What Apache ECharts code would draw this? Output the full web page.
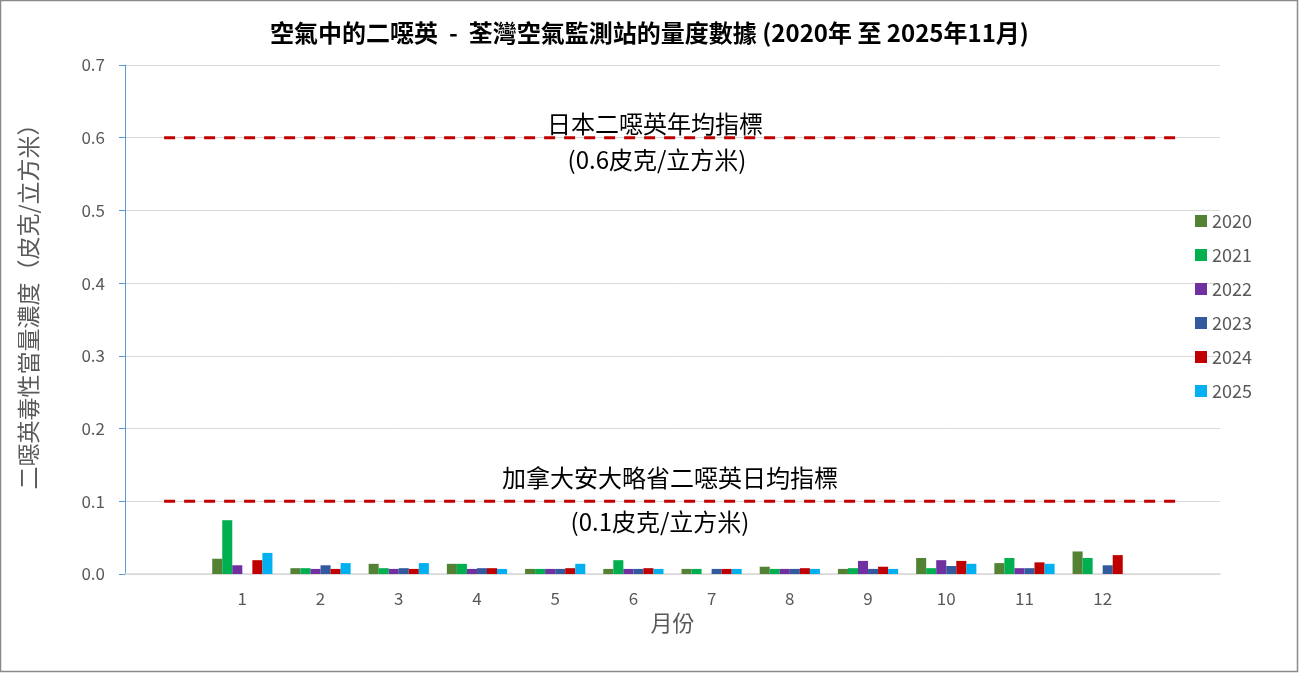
<!DOCTYPE html>
<html>
<head>
<meta charset="utf-8">
<title>空氣中的二噁英 - 荃灣空氣監測站</title>
<script src="https://cdn.jsdelivr.net/npm/echarts@6/dist/echarts.min.js"></script>
<style>
  html, body { margin: 0; padding: 0; background: #fff; }
  #chart { width: 1299px; height: 673px; }
</style>
</head>
<body>
<div id="chart"></div>
<script>
// 月份 (首尾留空位, 讓指標虛線伸出)
const months = ['', '1', '2', '3', '4', '5', '6', '7', '8', '9', '10', '11', '12', ''];
const years = ['2020', '2021', '2022', '2023', '2024', '2025'];
const yearColors = ['#548235', '#00B050', '#7030A0', '#335A9E', '#C00000', '#00B0F0'];

// 每年 1-12 月的量度數值 (皮克/立方米), null = 沒有數據
const v2020 = [0.021, 0.008, 0.014, 0.014, 0.007, 0.007, 0.007, 0.010, 0.007, 0.022, 0.015, 0.031];
const v2021 = [0.074, 0.008, 0.008, 0.014, 0.007, 0.019, 0.007, 0.007, 0.008, 0.008, 0.022, 0.022];
const v2022 = [0.012, 0.007, 0.007, 0.007, 0.007, 0.007, null, 0.007, 0.018, 0.019, 0.008, null];
const v2023 = [null, 0.012, 0.008, 0.008, 0.007, 0.007, 0.007, 0.007, 0.007, 0.011, 0.008, 0.012];
const v2024 = [0.019, 0.007, 0.007, 0.008, 0.008, 0.008, 0.007, 0.008, 0.010, 0.018, 0.016, 0.026];
const v2025 = [0.029, 0.015, 0.015, 0.007, 0.014, 0.007, 0.007, 0.007, 0.007, 0.014, 0.014, null];
const yearValues = [v2020, v2021, v2022, v2023, v2024, v2025];

// 指標
const jpLimit = 0.6;   // 日本二噁英年均指標
const caLimit = 0.1;   // 加拿大安大略省二噁英日均指標
const yTicks = { min: 0, max: 0.7, interval: 0.1 };

const chart = echarts.init(document.getElementById('chart'));

const cjk = '"Noto Sans CJK TC", "Noto Sans", sans-serif';
const grey = '#595959';

// 柱: 首尾空位補 null
const barSeries = years.map(function (y, i) {
  return {
    name: y,
    type: 'bar',
    data: [null].concat(yearValues[i], [null]),
    itemStyle: { color: yearColors[i] },
    barGap: '0%',
    barCategoryGap: '23%',
    silent: true
  };
});

function limitLine(value) {
  return {
    type: 'line',
    data: [[0, value], [months.length - 1, value]],
    symbol: 'none',
    silent: true,
    lineStyle: { color: '#C00000', width: 3, type: [11, 9] },
    z: 3
  };
}

function note(text, x, y) {
  return {
    type: 'text', x: x, y: y, silent: true,
    style: { text: text, font: '24px ' + cjk, fill: '#000', align: 'center', verticalAlign: 'middle' }
  };
}

const option = {
  animation: false,
  backgroundColor: '#fff',
  textStyle: { fontFamily: cjk },
  title: {
    text: '空氣中的二噁英  -  荃灣空氣監測站的量度數據 (2020年 至 2025年11月)',
    left: 'center',
    top: 16,
    textStyle: { fontFamily: cjk, fontSize: 24, fontWeight: 'bold', color: '#000' }
  },
  legend: {
    data: years,
    orient: 'vertical',
    left: 1190,
    top: 207,
    itemWidth: 12,
    itemHeight: 12,
    itemGap: 16,
    icon: 'rect',
    textStyle: { fontFamily: cjk, fontSize: 18, color: grey, lineHeight: 18 }
  },
  grid: { left: 125, right: 79, top: 65, bottom: 99, containLabel: false },
  xAxis: {
    type: 'category',
    data: months,
    name: '月份',
    nameLocation: 'middle',
    nameGap: 36,
    nameTextStyle: { fontFamily: cjk, fontSize: 22, color: grey },
    axisLine: { lineStyle: { color: '#D9D9D9', width: 1.5 } },
    axisTick: { show: false },
    axisLabel: { interval: 0, margin: 16, fontFamily: cjk, fontSize: 17, color: grey }
  },
  yAxis: {
    type: 'value',
    min: yTicks.min,
    max: yTicks.max,
    interval: yTicks.interval,
    axisLine: { show: true, lineStyle: { color: '#5B9BD5' } },
    axisTick: { show: true, length: 6, lineStyle: { color: '#5B9BD5' } },
    axisLabel: {
      margin: 20,
      fontFamily: cjk,
      fontSize: 17,
      color: grey,
      formatter: function (v) { return v.toFixed(1); }
    },
    splitLine: { lineStyle: { color: '#D9D9D9' } }
  },
  graphic: [
    {
      type: 'rect',
      silent: true,
      shape: { x: 0.5, y: 0.5, width: 1297, height: 671 },
      style: { fill: 'none', stroke: '#898989', lineWidth: 1.5 }
    },
    {
      type: 'text',
      silent: true,
      rotation: Math.PI / 2,
      x: 28, y: 301,
      style: {
        text: '二噁英毒性當量濃度（皮克/立方米）',
        font: '23px ' + cjk,
        fill: grey,
        align: 'center',
        verticalAlign: 'middle'
      }
    },
    note('日本二噁英年均指標', 655, 124),
    note('(0.6皮克/立方米)', 657, 160),
    note('加拿大安大略省二噁英日均指標', 670, 478),
    note('(0.1皮克/立方米)', 660, 522)
  ],
  series: barSeries.concat([limitLine(jpLimit), limitLine(caLimit)])
};

option && chart.setOption(option);
</script>
</body>
</html>
